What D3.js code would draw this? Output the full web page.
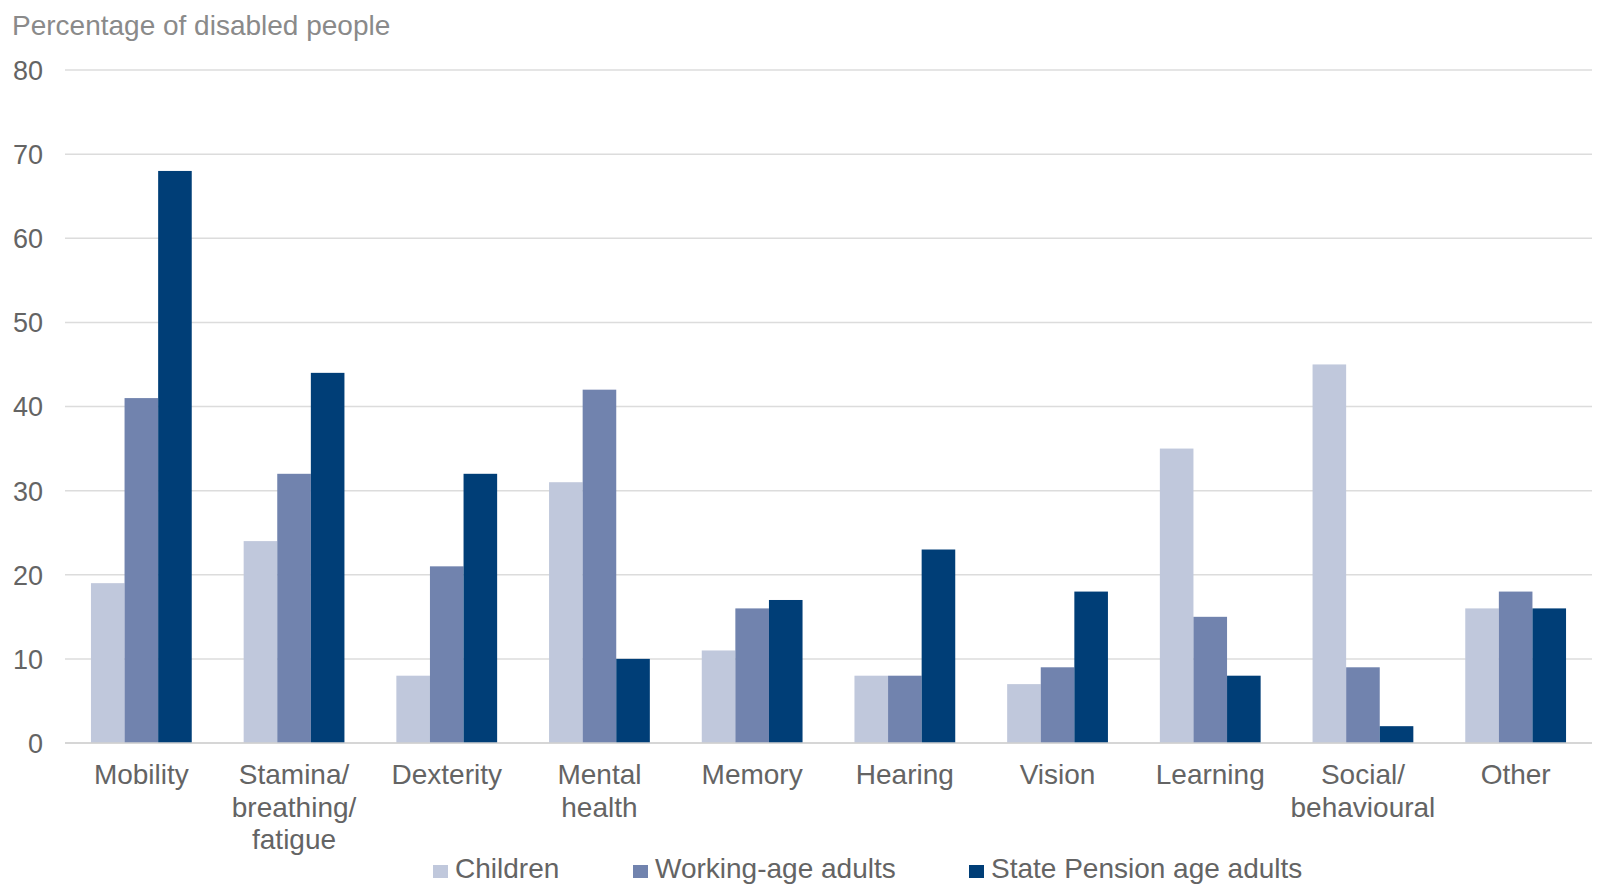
<!DOCTYPE html>
<html lang="en">
<head>
<meta charset="UTF-8">
<title>Disabled people by impairment type</title>
<script src="https://cdn.jsdelivr.net/npm/d3@7"></script>
<style>
  body { margin: 0; background: #fff; }
  svg text { font-family: "Liberation Sans", Arial, sans-serif; fill: #646464; }
</style>
</head>
<body>
<div id="chart"></div>
<script>
// data
const categories = ["Mobility", "Stamina/ breathing/ fatigue", "Dexterity", "Mental health", "Memory",
                    "Hearing", "Vision", "Learning", "Social/ behavioural", "Other"]
const categoryLines = [["Mobility"], ["Stamina/", "breathing/", "fatigue"], ["Dexterity"], ["Mental", "health"],
                       ["Memory"], ["Hearing"], ["Vision"], ["Learning"], ["Social/", "behavioural"], ["Other"]]
const seriesNames = ["Children", "Working-age adults", "State Pension age adults"]
const children = [19, 24, 8, 31, 11, 8, 7, 35, 45, 16]
const workingAge = [41, 32, 21, 42, 16, 8, 9, 15, 9, 18]
const pensionAge = [68, 44, 32, 10, 17, 23, 18, 8, 2, 16]
const yTicks = [0, 10, 20, 30, 40, 50, 60, 70, 80]
const colours = ["#c0c8dc", "#7183ae", "#003e77"]

const series = [children, workingAge, pensionAge]

let w = 1607, h = 895
let plotLeft = 65, plotRight = 1592, plotTop = 70, plotBottom = 743

let svg = d3.select('#chart').append('svg')
  .attr('width', w)
  .attr('height', h)

let x0 = d3.scaleBand()
  .domain(categories)
  .range([plotLeft, plotRight])
  .paddingInner(0.34)
  .paddingOuter(0.17)

let x1 = d3.scaleBand()
  .domain(seriesNames)
  .range([0, x0.bandwidth()])

let y = d3.scaleLinear()
  .domain([0, 80])
  .range([plotBottom, plotTop])

// gridlines
svg.append('g')
  .selectAll('line')
  .data(yTicks)
  .enter()
  .append('line')
  .attr('x1', plotLeft)
  .attr('x2', plotRight)
  .attr('y1', d => y(d))
  .attr('y2', d => y(d))
  .attr('stroke', '#dcdcdc')
  .attr('stroke-width', 1.5)

// y labels
let yAxis = d3.axisLeft(y).tickValues(yTicks).tickSize(0).tickPadding(22)
let yg = svg.append('g')
  .attr('transform', `translate(${plotLeft}, 0)`)
  .call(yAxis)
yg.select('.domain').remove()
yg.selectAll('text')
  .attr('font-size', 27)
  .attr('fill', null)
  .attr('dy', '0.35em')

// bars
let groups = svg.append('g')
  .selectAll('g')
  .data(categories)
  .enter()
  .append('g')
  .attr('transform', d => `translate(${x0(d)}, 0)`)

groups.selectAll('rect')
  .data((d, i) => seriesNames.map((s, j) => ({ s: s, v: series[j][i], j: j })))
  .enter()
  .append('rect')
  .attr('x', d => x1(d.s))
  .attr('y', d => y(d.v))
  .attr('width', x1.bandwidth())
  .attr('height', d => y(0) - y(d.v))
  .attr('fill', d => colours[d.j])

// baseline
svg.append('line')
  .attr('x1', plotLeft).attr('x2', plotRight)
  .attr('y1', y(0)).attr('y2', y(0))
  .attr('stroke', '#d0d0d0')
  .attr('stroke-width', 1.5)

// category labels
let xl = svg.append('g')
  .selectAll('text')
  .data(categories)
  .enter()
  .append('text')
  .attr('text-anchor', 'middle')
  .attr('font-size', 28)
  .attr('x', d => x0(d) + x0.bandwidth() / 2)
  .attr('y', 784)

xl.selectAll('tspan')
  .data((d, i) => categoryLines[i])
  .enter()
  .append('tspan')
  .attr('x', function () { return d3.select(this.parentNode).attr('x') })
  .attr('dy', (d, i) => i === 0 ? 0 : 32.5)
  .text(d => d)

// axis title
svg.append('text')
  .attr('x', 12)
  .attr('y', 35)
  .attr('font-size', 28)
  .style('fill', '#8a8a8a')
  .text('Percentage of disabled people')

// legend
let legendX = [433, 633, 969]
let legend = svg.append('g')
  .selectAll('g')
  .data(seriesNames)
  .enter()
  .append('g')
  .attr('transform', (d, i) => `translate(${legendX[i]}, 878)`)

legend.append('rect')
  .attr('x', 0)
  .attr('y', -13)
  .attr('width', 15)
  .attr('height', 13)
  .attr('fill', (d, i) => colours[i])

legend.append('text')
  .attr('x', 22)
  .attr('y', 0)
  .attr('font-size', 28)
  .text(d => d)
</script>
</body>
</html>
